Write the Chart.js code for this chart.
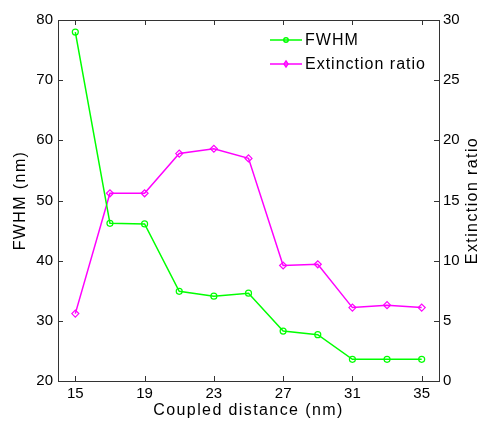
<!DOCTYPE html>
<html>
<head>
<meta charset="utf-8">
<script src="https://cdn.jsdelivr.net/npm/chart.js@4/dist/chart.umd.min.js"></script>
<style>
  html, body { margin: 0; padding: 0; background: #fff; }
  #wrap { width: 481px; height: 423px; }
</style>
</head>
<body>
<div id="wrap"><canvas id="fwhmChart" width="481" height="423"></canvas></div>
<script>
// data
const distances = [15, 17, 19, 21, 23, 25, 27, 29, 31, 33, 35];
const fwhm = [78.0, 46.2, 46.1, 34.9, 34.1, 34.6, 28.3, 27.7, 23.6, 23.6, 23.6];
const extinction = [5.6, 15.6, 15.6, 18.9, 19.3, 18.5, 9.6, 9.7, 6.1, 6.3, 6.1];
const xTicks = [15, 19, 23, 27, 31, 35];
const leftTicks = [20, 30, 40, 50, 60, 70, 80];
const rightTicks = [0, 5, 10, 15, 20, 25, 30];
const xTitle = 'Coupled distance (nm)';
const leftTitle = 'FWHM (nm)';
const rightTitle = 'Extinction ratio';

const font = 'Liberation Sans, Arial, sans-serif';

// MATLAB style box with inward ticks, axis titles and the legend in the corner
const boxPlugin = {
  id: 'box',
  afterDraw(chart) {
    const { ctx, chartArea: a, scales } = chart;
    ctx.save();
    ctx.strokeStyle = '#333';
    ctx.lineWidth = 1;
    ctx.strokeRect(a.left + 0.5, a.top + 0.5, a.right - a.left, a.bottom - a.top);
    ctx.beginPath();
    const len = 5;
    xTicks.forEach(v => {
      const x = Math.round(scales.x.getPixelForValue(v)) + 0.5;
      ctx.moveTo(x, a.bottom); ctx.lineTo(x, a.bottom - len);
      ctx.moveTo(x, a.top); ctx.lineTo(x, a.top + len);
    });
    leftTicks.forEach(v => {
      const y = Math.round(scales.y.getPixelForValue(v)) + 0.5;
      ctx.moveTo(a.left, y); ctx.lineTo(a.left + len, y);
    });
    rightTicks.forEach(v => {
      const y = Math.round(scales.y2.getPixelForValue(v)) + 0.5;
      ctx.moveTo(a.right, y); ctx.lineTo(a.right - len, y);
    });
    ctx.stroke();

    // axis titles (both vertical ones read bottom to top, like the original)
    ctx.fillStyle = '#000';
    ctx.font = '16px ' + font;
    ctx.letterSpacing = '1.4px';
    ctx.textAlign = 'center';
    ctx.textBaseline = 'middle';
    const midY = (a.top + a.bottom) / 2;
    ctx.fillText(xTitle, (a.left + a.right) / 2, 411);
    [[21, leftTitle], [473, rightTitle]].forEach(([x, t]) => {
      ctx.save();
      ctx.translate(x, midY);
      ctx.rotate(-Math.PI / 2);
      ctx.fillText(t, 0, 0);
      ctx.restore();
    });

    // legend
    ctx.textAlign = 'left';
    ctx.letterSpacing = '1px';
    chart.data.datasets.forEach((ds, i) => {
      const y = 40 + i * 24;
      const x0 = 270, x1 = 302;
      ctx.strokeStyle = ds.borderColor;
      ctx.lineWidth = 1.5;
      ctx.beginPath(); ctx.moveTo(x0, y); ctx.lineTo(x1, y); ctx.stroke();
      ctx.beginPath();
      const cx = (x0 + x1) / 2;
      if (ds.pointStyle === 'rectRot') {
        ctx.moveTo(cx, y - 3); ctx.lineTo(cx + 2, y); ctx.lineTo(cx, y + 3); ctx.lineTo(cx - 2, y); ctx.closePath();
      } else {
        ctx.arc(cx, y, 2.2, 0, Math.PI * 2);
      }
      ctx.stroke();
      ctx.fillStyle = '#000';
      ctx.fillText(ds.label, 305, y + 1);
    });
    ctx.restore();
  }
};

new Chart(document.getElementById('fwhmChart'), {
  type: 'line',
  data: {
    datasets: [{
      label: 'FWHM',
      data: distances.map((d, i) => ({ x: d, y: fwhm[i] })),
      borderColor: '#00ff00',
      backgroundColor: 'transparent',
      borderWidth: 1.5,
      pointStyle: 'circle',
      pointRadius: 3,
      pointBorderWidth: 1.2,
      yAxisID: 'y',
      tension: 0
    },
    {
      label: 'Extinction ratio',
      data: distances.map((d, i) => ({ x: d, y: extinction[i] })),
      borderColor: '#ff00ff',
      backgroundColor: 'transparent',
      borderWidth: 1.5,
      pointStyle: 'rectRot',
      pointRadius: 3.5,
      pointBorderWidth: 1.2,
      yAxisID: 'y2',
      tension: 0
    }]
  },
  options: {
    responsive: false,
    animation: false,
    layout: { padding: { top: 20, left: 0, right: 0, bottom: 0 } },
    plugins: { legend: { display: false }, tooltip: { enabled: false } },
    scales: {
      x: {
        type: 'linear', min: 14, max: 36,
        afterBuildTicks: s => { s.ticks = xTicks.map(v => ({ value: v })); },
        afterFit: s => { s.height = 42; },
        grid: { display: false, drawTicks: false },
        border: { display: false },
        ticks: { color: '#000', font: { family: font, size: 15 }, padding: 4, maxRotation: 0 }
      },
      y: {
        position: 'left', min: 20, max: 80,
        afterBuildTicks: s => { s.ticks = leftTicks.map(v => ({ value: v })); },
        afterFit: s => { s.width = 58; },
        grid: { display: false, drawTicks: false },
        border: { display: false },
        ticks: { color: '#000', font: { family: font, size: 15 }, padding: 5 }
      },
      y2: {
        position: 'right', min: 0, max: 30,
        afterBuildTicks: s => { s.ticks = rightTicks.map(v => ({ value: v })); },
        afterFit: s => { s.width = 42; },
        grid: { display: false, drawTicks: false },
        border: { display: false },
        ticks: { color: '#000', font: { family: font, size: 15 }, padding: 4 }
      }
    }
  },
  plugins: [boxPlugin]
});
</script>
</body>
</html>
